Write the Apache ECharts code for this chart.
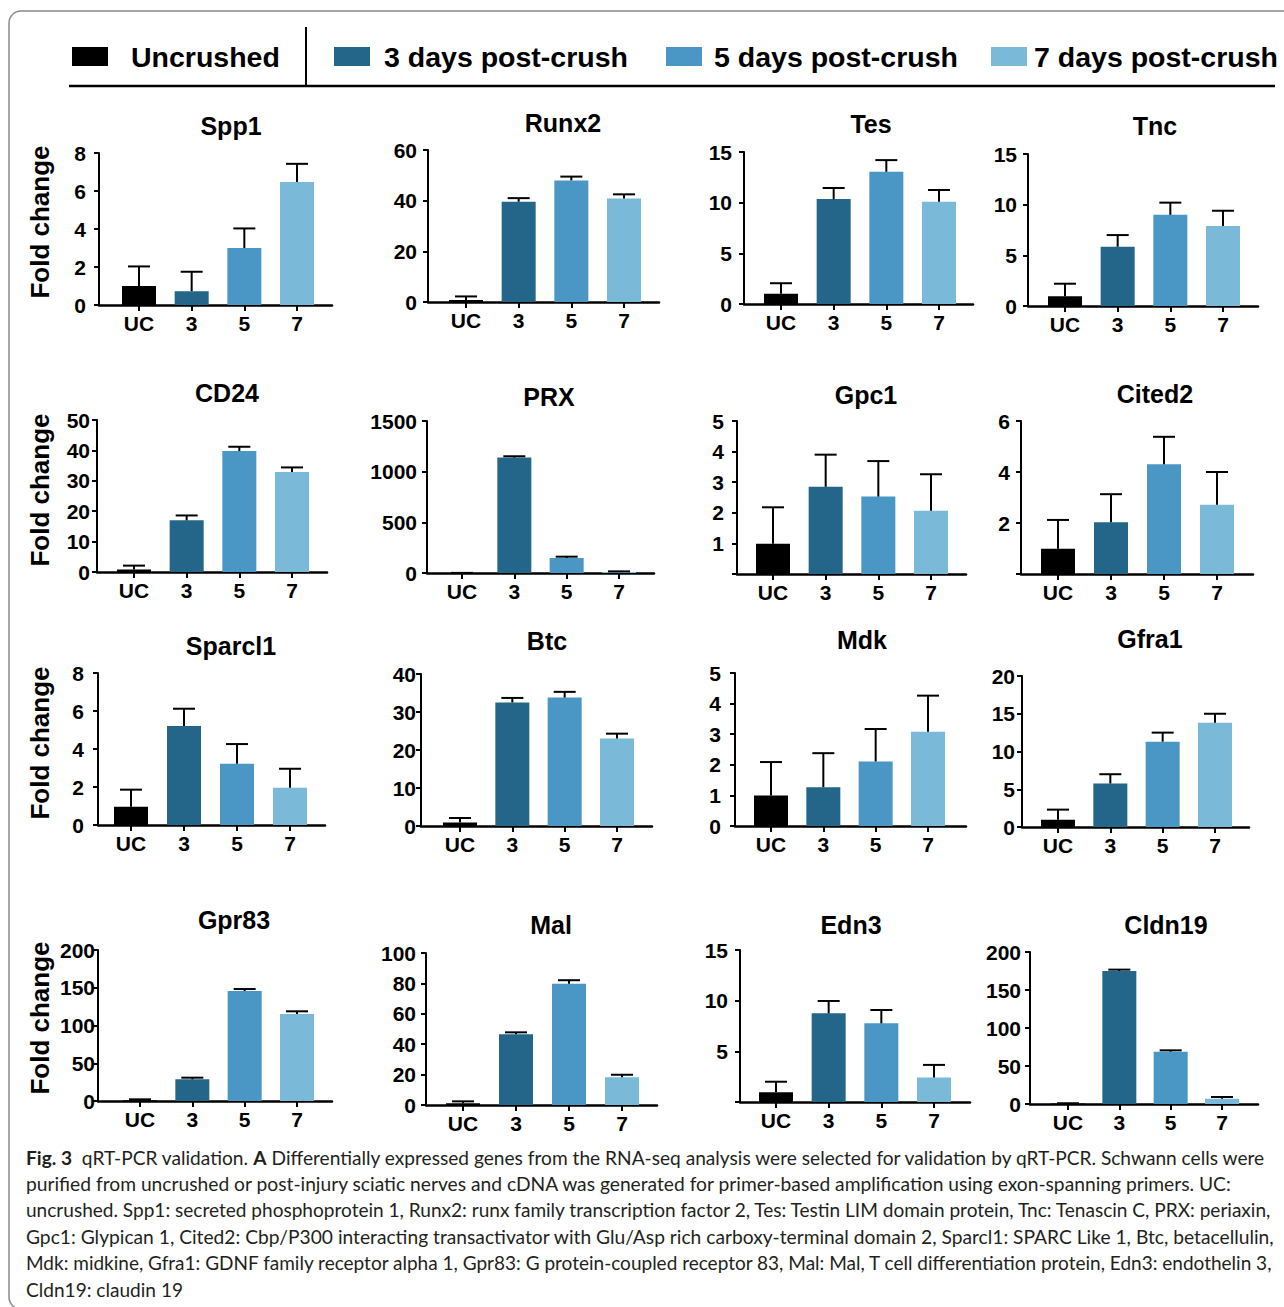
<!DOCTYPE html>
<html>
<head>
<meta charset="utf-8">
<script src="https://cdn.jsdelivr.net/npm/echarts@6/dist/echarts.min.js"></script>
<style>
html,body{margin:0;padding:0;background:#fff;}
#chart{width:1284px;height:1307px;}
</style>
</head>
<body>
<div id="chart"></div>
<script>
// ---------------- DATA ----------------
const genes = ['Spp1','Runx2','Tes','Tnc','CD24','PRX','Gpc1','Cited2','Sparcl1','Btc','Mdk','Gfra1','Gpr83','Mal','Edn3','Cldn19'];
const categories = ['UC','3','5','7'];
const legendNames = ['Uncrushed','3 days post-crush','5 days post-crush','7 days post-crush'];
// mean fold change per gene: [UC, 3 d, 5 d, 7 d]
const meanSpp1 = [1.0, 0.73, 3.0, 6.47];
const meanRunx2 = [0.8, 39.6, 48.0, 40.9];
const meanTes = [1.0, 10.35, 13.05, 10.1];
const meanTnc = [0.95, 5.85, 9.0, 7.9];
const meanCD24 = [0.8, 17.0, 39.8, 32.9];
const meanPRX = [1, 1139, 148, 10];
const meanGpc1 = [0.99, 2.85, 2.53, 2.07];
const meanCited2 = [0.99, 2.03, 4.3, 2.72];
const meanSparcl1 = [0.96, 5.21, 3.23, 1.96];
const meanBtc = [0.9, 32.5, 33.8, 23.0];
const meanMdk = [1.0, 1.27, 2.11, 3.08];
const meanGfra1 = [0.96, 5.76, 11.3, 13.8];
const meanGpr83 = [0.9, 28.7, 145.7, 115.2];
const meanMal = [1.1, 46.5, 79.7, 18.3];
const meanEdn3 = [0.96, 8.75, 7.76, 2.41];
const meanCldn19 = [0.5, 175, 68.9, 7.0];
// upper error (SEM) per gene
const errSpp1 = [1.03, 1.02, 1.03, 0.96];
const errRunx2 = [1.4, 1.4, 1.5, 1.6];
const errTes = [1.05, 1.1, 1.15, 1.15];
const errTnc = [1.25, 1.15, 1.2, 1.5];
const errCD24 = [1.3, 1.6, 1.4, 1.5];
const errPRX = [0, 13, 13, 6];
const errGpc1 = [1.19, 1.05, 1.16, 1.19];
const errCited2 = [1.13, 1.1, 1.08, 1.28];
const errSparcl1 = [0.9, 0.91, 1.03, 1.0];
const errBtc = [1.2, 1.2, 1.5, 1.3];
const errMdk = [1.09, 1.11, 1.06, 1.18];
const errGfra1 = [1.34, 1.23, 1.2, 1.2];
const errGpr83 = [1.3, 2.2, 2.6, 3.6];
const errMal = [1.3, 1.3, 2.4, 1.6];
const errEdn3 = [1.04, 1.22, 1.32, 1.25];
const errCldn19 = [0.5, 1.8, 1.7, 2.2];
// y-axis tick labels: max and step, and whether 0 label is shown
const yMax = [8, 60, 15, 15, 50, 1500, 5, 6, 8, 40, 5, 20, 200, 100, 15, 200];
const yStep = [2, 20, 5, 5, 10, 500, 1, 2, 2, 10, 1, 5, 50, 20, 5, 50];
const yShowZero = [1,1,1,1, 1,1,0,0, 1,1,1,1, 1,1,0,1];

const means = [meanSpp1, meanRunx2, meanTes, meanTnc, meanCD24, meanPRX, meanGpc1, meanCited2,
  meanSparcl1, meanBtc, meanMdk, meanGfra1, meanGpr83, meanMal, meanEdn3, meanCldn19];
const errs = [errSpp1, errRunx2, errTes, errTnc, errCD24, errPRX, errGpc1, errCited2,
  errSparcl1, errBtc, errMdk, errGfra1, errGpr83, errMal, errEdn3, errCldn19];

// ---------------- LAYOUT (positions only) ----------------
// [yAxisX, topY, zeroY, xAxisEnd, firstBarCenter, lastBarCenter, titleX, titleY, yLabelMargin]
const layout = [
  [99, 153, 305, 332, 139, 297, 231, 126, 13],
  [428, 150, 302, 659, 466, 624, 563, 123, 11],
  [744, 152, 304, 973, 781, 939, 871, 124, 12],
  [1028, 154, 306, 1258, 1065, 1223, 1155, 126, 11],
  [97, 420, 572, 327, 134, 292, 227, 393, 7],
  [427, 421, 573, 654, 462, 619, 549, 397, 10],
  [737, 421, 574, 966, 773, 931, 866, 395, 13],
  [1021, 421, 574, 1253, 1058, 1217, 1155, 394, 11],
  [98, 673, 825, 325, 131, 290, 231, 646, 14],
  [421, 674, 826, 652, 460, 617, 547, 641, 5],
  [735, 673, 826, 966, 771, 928, 862, 640, 14],
  [1022, 676, 827, 1249, 1058, 1215, 1150, 639, 7],
  [98, 950, 1101, 332, 140, 297, 234, 920, 3],
  [426, 953, 1105, 657, 463, 622, 551, 925, 10],
  [740, 950, 1102, 970, 776, 934, 851, 925, 12],
  [1030, 952, 1104, 1258, 1068, 1222, 1166, 925, 9]
];
const foldY = [222, 490, 743, 1018];
const colors = ['#000000', '#236689', '#4a96c5', '#7bb9d8'];
const FONT = "'Liberation Sans', Arial, sans-serif";

const chart = echarts.init(document.getElementById('chart'), null, {renderer: 'svg', width: 1284, height: 1307});

const grids = [], xAxes = [], yAxes = [], series = [], graphics = [];
genes.forEach((g, i) => {
  const L = layout[i];
  const u = (L[5] - L[4]) / 3;
  grids.push({left: L[0], top: L[1], width: L[3] - L[0], height: L[2] - L[1], containLabel: false});
  xAxes.push({
    type: 'value', gridIndex: i,
    min: -(L[4] - L[0]) / u, max: 3 + (L[3] - L[5]) / u,
    axisLine: {show: true, onZero: false, lineStyle: {color: '#000', width: 2.5}},
    axisTick: {show: true, customValues: [0,1,2,3], length: 6, lineStyle: {color: '#000', width: 2}},
    axisLabel: {show: true, customValues: [0,1,2,3], formatter: v => categories[Math.round(v)],
      fontFamily: FONT, fontWeight: 'bold', fontSize: 21, color: '#000', margin: 8},
    splitLine: {show: false}
  });
  const showZero = yShowZero[i];
  yAxes.push({
    type: 'value', gridIndex: i, min: 0, max: yMax[i], interval: yStep[i],
    axisLine: {show: true, onZero: false, lineStyle: {color: '#000', width: 2}},
    axisTick: {show: true, length: 5, lineStyle: {color: '#000', width: 2}},
    axisLabel: {fontFamily: FONT, fontWeight: 'bold', fontSize: 21, color: '#000', margin: L[8],
      formatter: v => (v === 0 && !showZero) ? '' : String(v)},
    splitLine: {show: false}
  });
  series.push({
    type: 'bar', xAxisIndex: i, yAxisIndex: i, barWidth: 34, z: 2,
    data: means[i].map((v, k) => ({value: [k, v], itemStyle: {color: colors[k]}})),
    animation: false
  });
  series.push({
    type: 'custom', xAxisIndex: i, yAxisIndex: i, z: 3,
    data: means[i].map((v, k) => [k, v, errs[i][k]]),
    encode: {x: 0, y: 1},
    renderItem: (params, api) => {
      const x = api.value(0), m = api.value(1), e = api.value(2);
      const p0 = api.coord([x, m]);
      const p1 = api.coord([x, m + e]);
      const st = {stroke: '#000', lineWidth: 2, fill: null};
      return {type: 'group', children: [
        {type: 'line', shape: {x1: p0[0], y1: p0[1], x2: p1[0], y2: p1[1]}, style: st},
        {type: 'line', shape: {x1: p1[0] - 11, y1: p1[1], x2: p1[0] + 11, y2: p1[1]}, style: st}
      ]};
    },
    animation: false
  });
  graphics.push({type: 'text', x: L[6], y: L[7],
    style: {text: g, fontFamily: FONT, fontWeight: 'bold', fontSize: 25, fill: '#000',
      align: 'center', verticalAlign: 'middle', textAlign: 'center', textVerticalAlign: 'middle'}});
});

foldY.forEach(y => {
  graphics.push({type: 'text', x: 40, y: y, rotation: Math.PI / 2,
    style: {text: 'Fold change', fontFamily: FONT, fontWeight: 'bold', fontSize: 26, fill: '#000',
      align: 'center', verticalAlign: 'middle', textAlign: 'center', textVerticalAlign: 'middle'}});
});

// frame (only top and left edges fall inside the picture)
graphics.push({type: 'rect', shape: {x: 9, y: 11, width: 1300, height: 1298, r: 12},
  style: {fill: null, stroke: '#8a8a8a', lineWidth: 1.5}, z: -1});

// legend
const legBoxX = [72, 334, 666, 991];
const legTextX = [131, 384, 714, 1034];
legendNames.forEach((n, k) => {
  graphics.push({type: 'rect', shape: {x: legBoxX[k], y: 47, width: 36, height: 19}, style: {fill: colors[k]}});
  graphics.push({type: 'text', x: legTextX[k], y: 57,
    style: {text: n, fontFamily: FONT, fontWeight: 'bold', fontSize: 28.5, fill: '#000',
      align: 'left', verticalAlign: 'middle', textAlign: 'left', textVerticalAlign: 'middle'}});
});
graphics.push({type: 'line', shape: {x1: 306, y1: 27, x2: 306, y2: 86}, style: {stroke: '#000', lineWidth: 2}});
graphics.push({type: 'line', shape: {x1: 69, y1: 86, x2: 1275, y2: 86}, style: {stroke: '#000', lineWidth: 2.5}});

// caption
const capFont = "Lato, 'Open Sans', sans-serif";
const capLines = [
  [['b','Fig. 3'],['n','  qRT-PCR validation. '],['b','A'],['n',' Differentially expressed genes from the RNA-seq analysis were selected for validation by qRT-PCR. Schwann cells were']],
  [['n','purified from uncrushed or post-injury sciatic nerves and cDNA was generated for primer-based amplification using exon-spanning primers. UC:']],
  [['n','uncrushed. Spp1: secreted phosphoprotein 1, Runx2: runx family transcription factor 2, Tes: Testin LIM domain protein, Tnc: Tenascin C, PRX: periaxin,']],
  [['n','Gpc1: Glypican 1, Cited2: Cbp/P300 interacting transactivator with Glu/Asp rich carboxy-terminal domain 2, Sparcl1: SPARC Like 1, Btc, betacellulin,']],
  [['n','Mdk: midkine, Gfra1: GDNF family receptor alpha 1, Gpr83: G protein-coupled receptor 83, Mal: Mal, T cell differentiation protein, Edn3: endothelin 3,']],
  [['n','Cldn19: claudin 19']]
];
const capY = [1157, 1183, 1209, 1236, 1262, 1289];
const capW = [1242, 1208, 1249, 1249, 1249, 0];
const ctx = document.createElement('canvas').getContext('2d');
function measure(parts, size) {
  let w = 0;
  parts.forEach(p => {
    ctx.font = (p[0] === 'b' ? 'bold ' : '') + size + 'px ' + capFont;
    w += ctx.measureText(p[1]).width;
  });
  return w;
}
const sizes = capW.map((w, i) => w ? 100 * w / measure(capLines[i], 100) : 0);
const avg = (sizes[2] + sizes[3] + sizes[4]) / 3;
capLines.forEach((parts, i) => {
  const s = sizes[i] || avg;
  const text = parts.map(p => p[0] === 'b' ? '{b|' + p[1] + '}' : '{n|' + p[1] + '}').join('');
  graphics.push({type: 'text', x: 26, y: capY[i],
    style: {text: text, fontFamily: capFont, fontSize: s, fill: '#231f20',
      align: 'left', verticalAlign: 'middle', textAlign: 'left', textVerticalAlign: 'middle',
      rich: {b: {fontFamily: capFont, fontSize: s, fontWeight: 'bold', fill: '#231f20'},
             n: {fontFamily: capFont, fontSize: s, fill: '#231f20'}}}});
});

chart.setOption({
  animation: false,
  grid: grids, xAxis: xAxes, yAxis: yAxes, series: series,
  graphic: {elements: graphics}
});
</script>
</body>
</html>
